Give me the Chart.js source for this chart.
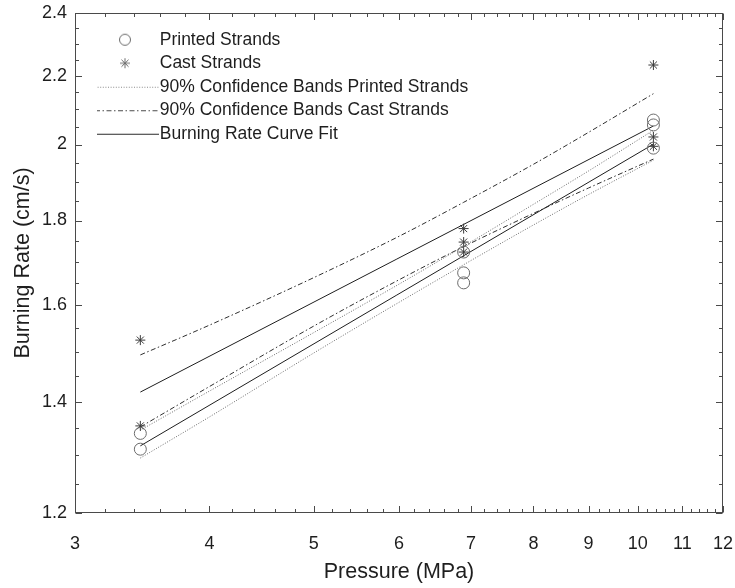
<!DOCTYPE html>
<html>
<head>
<meta charset="utf-8">
<title>Burning Rate vs Pressure</title>
<script src="https://cdn.jsdelivr.net/npm/chart.js@4.4.1/dist/chart.umd.min.js"></script>
<style>
  html, body { margin: 0; padding: 0; background: #fff; }
  #wrap { width: 735px; height: 588px; }
</style>
</head>
<body>
<div id="wrap"><canvas id="burn-canvas" width="735" height="588"></canvas></div>
<script>
  // Strand measurements: pressure (MPa) and burning rate (cm/s)
  let printed_p = [3.45, 3.45, 6.89, 6.89, 6.89, 10.34, 10.34, 10.34];
  let printed_r = [1.340, 1.311, 1.723, 1.674, 1.651, 2.069, 2.055, 1.990];
  let cast_p = [3.45, 3.45, 6.89, 6.89, 6.89, 10.34, 10.34, 10.34];
  let cast_r = [1.525, 1.354, 1.780, 1.747, 1.723, 2.233, 2.021, 1.995];

  // Curve fits (straight lines on log-log axes)
  let fit_p = [3.45, 10.34];
  let fit_printed = [1.317, 2.001];
  let fit_cast = [1.419, 2.052];

  // 90% confidence bands
  let band_p = [3.45, 4, 5, 6, 6.89, 8, 9, 10.34];
  let band_printed_hi = [1.346, 1.421, 1.541, 1.648, 1.737, 1.841, 1.928, 2.040];
  let band_printed_lo = [1.295, 1.371, 1.498, 1.607, 1.693, 1.789, 1.866, 1.957];
  let band_cast_hi = [1.494, 1.557, 1.663, 1.761, 1.846, 1.946, 2.034, 2.146];
  let band_cast_lo = [1.352, 1.430, 1.555, 1.658, 1.736, 1.818, 1.883, 1.960];

  // Axis ticks
  let x_ticks = [3, 4, 5, 6, 7, 8, 9, 10, 11, 12];
  let y_ticks = [1.2, 1.4, 1.6, 1.8, 2.0, 2.2, 2.4];

  let font_family = '"Liberation Sans", Arial, sans-serif';
  let axis_color = '#4a4a4a';
  let text_color = '#1e1e1e';

  Chart.defaults.font.family = font_family;

  function pts(xs, ys) {
    let out = [];
    for (let i = 0; i < xs.length; i++) {
      out.push({x: xs[i], y: ys[i]});
    }
    return out;
  }

  // little legend swatches: a line segment with an optional marker
  function make_sample(dash, color, marker) {
    let c = document.createElement('canvas');
    c.width = 64;
    c.height = 16;
    let g = c.getContext('2d');
    g.strokeStyle = color;
    g.lineWidth = 1;
    if (dash) {
      g.setLineDash(dash);
      g.beginPath();
      g.moveTo(0, 8.5);
      g.lineTo(64, 8.5);
      g.stroke();
      g.setLineDash([]);
    }
    if (marker === 'circle') {
      g.beginPath();
      g.arc(30, 8, 5.5, 0, Math.PI * 2);
      g.stroke();
    }
    if (marker === 'star') {
      let r = 5;
      g.beginPath();
      for (let k = 0; k < 4; k++) {
        let a = k * Math.PI / 4;
        g.moveTo(30 - r * Math.cos(a), 8 - r * Math.sin(a));
        g.lineTo(30 + r * Math.cos(a), 8 + r * Math.sin(a));
      }
      g.stroke();
    }
    return c;
  }

  let dot_dash = [1, 1.6];
  let dashdot_dash = [5, 2.5, 1.5, 2.5];

  let line_base = {
    showLine: true,
    pointRadius: 0,
    pointHoverRadius: 0,
    fill: false,
    borderWidth: 1,
    cubicInterpolationMode: 'monotone'
  };

  let datasets = [
    {
      label: 'Printed Strands',
      data: pts(printed_p, printed_r),
      showLine: false,
      pointStyle: 'circle',
      pointRadius: 6,
      borderColor: '#6c6c6c',
      backgroundColor: 'rgba(0,0,0,0)',
      borderWidth: 1,
      sample: make_sample(null, '#6c6c6c', 'circle')
    },
    {
      label: 'Cast Strands',
      data: pts(cast_p, cast_r),
      showLine: false,
      pointStyle: 'star',
      pointRadius: 5,
      borderColor: '#3a3a3a',
      backgroundColor: 'rgba(0,0,0,0)',
      borderWidth: 1,
      sample: make_sample(null, '#6c6c6c', 'star')
    },
    Object.assign({}, line_base, {
      label: '90% Confidence Bands Printed Strands',
      data: pts(band_p, band_printed_hi),
      borderColor: '#6a6a6a',
      borderDash: dot_dash,
      sample: make_sample(dot_dash, '#8a8a8a', null)
    }),
    Object.assign({}, line_base, {
      label: 'printed lower band',
      data: pts(band_p, band_printed_lo),
      borderColor: '#6a6a6a',
      borderDash: dot_dash,
      hide_in_legend: true
    }),
    Object.assign({}, line_base, {
      label: '90% Confidence Bands Cast Strands',
      data: pts(band_p, band_cast_hi),
      borderColor: '#2e2e2e',
      borderDash: dashdot_dash,
      sample: make_sample(dashdot_dash, '#4a4a4a', null)
    }),
    Object.assign({}, line_base, {
      label: 'cast lower band',
      data: pts(band_p, band_cast_lo),
      borderColor: '#2e2e2e',
      borderDash: dashdot_dash,
      hide_in_legend: true
    }),
    Object.assign({}, line_base, {
      label: 'Burning Rate Curve Fit',
      data: pts(fit_p, fit_printed),
      borderColor: '#1e1e1e',
      sample: make_sample([], '#2a2a2a', null)
    }),
    Object.assign({}, line_base, {
      label: 'cast fit',
      data: pts(fit_p, fit_cast),
      borderColor: '#1e1e1e',
      hide_in_legend: true
    })
  ];

  // box around the plot plus inward major/minor ticks on all four sides
  let frame_plugin = {
    id: 'frame',
    beforeDatasetsDraw(chart) {
      let ctx = chart.ctx;
      let a = chart.chartArea;
      let xs = chart.scales.x;
      let ys = chart.scales.y;
      let L = Math.round(a.left) + 0.5, R = Math.round(a.right) - 0.5;
      let T = Math.round(a.top) + 0.5, B = Math.round(a.bottom) - 0.5;
      ctx.save();
      ctx.strokeStyle = axis_color;
      ctx.lineWidth = 1;
      ctx.strokeRect(L, T, R - L, B - T);

      let x_minor = [];
      for (let v = 3.2; v < 12; v += 0.2) {
        let r = Math.round(v * 10) / 10;
        if (Math.abs(r - Math.round(r)) > 1e-6) x_minor.push(r);
      }
      let y_minor = [];
      for (let v = 1.25; v < 2.4; v += 0.05) {
        let r = Math.round(v * 100) / 100;
        if (Math.abs(r * 5 - Math.round(r * 5)) > 1e-6) y_minor.push(r);
      }

      ctx.beginPath();
      let xtick = function(v, len) {
        let px = Math.round(xs.getPixelForValue(v)) + 0.5;
        ctx.moveTo(px, B); ctx.lineTo(px, B - len);
        ctx.moveTo(px, T); ctx.lineTo(px, T + len);
      };
      let ytick = function(v, len) {
        let py = Math.round(ys.getPixelForValue(v)) + 0.5;
        ctx.moveTo(L, py); ctx.lineTo(L + len, py);
        ctx.moveTo(R, py); ctx.lineTo(R - len, py);
      };
      x_ticks.forEach(v => xtick(v, 6.5));
      x_minor.forEach(v => xtick(v, 3.5));
      y_ticks.forEach(v => ytick(v, 6.5));
      y_minor.forEach(v => ytick(v, 3.5));
      ctx.stroke();
      ctx.restore();
    },
    afterLayout(chart) {
      // legend sits in the upper-left corner of the plot
      let lg = chart.legend;
      if (!lg) return;
      lg.left = 97;
      lg.right = 600;
      lg.top = 25;
      lg.bottom = 400;
    }
  };

  let burn_ctx = document.getElementById('burn-canvas').getContext('2d');
  let burn_chart = new Chart(burn_ctx, {
    type: 'scatter',
    data: { datasets: datasets },
    plugins: [frame_plugin],
    options: {
      responsive: false,
      animation: false,
      devicePixelRatio: 1,
      events: [],
      layout: { padding: { left: 0, right: 12, top: 13, bottom: 0 } },
      plugins: {
        tooltip: { enabled: false },
        legend: {
          position: 'chartArea',
          align: 'start',
          labels: {
            usePointStyle: true,
            pointStyleWidth: 48,
            padding: 6,
            color: text_color,
            font: { size: 17.5, family: font_family },
            filter: (item, data) => !data.datasets[item.datasetIndex].hide_in_legend,
            generateLabels: function(chart) {
              let items = Chart.defaults.plugins.legend.labels.generateLabels(chart);
              items.forEach(it => {
                it.pointStyle = chart.data.datasets[it.datasetIndex].sample;
                it.fontColor = text_color;
              });
              return items;
            }
          }
        }
      },
      scales: {
        x: {
          type: 'logarithmic',
          min: 3,
          max: 12,
          afterBuildTicks: s => { s.ticks = x_ticks.map(v => ({value: v})); },
          afterFit: s => { s.height = 75; },
          // tick marks are drawn by the frame plugin; tickLength only spaces the labels
          grid: { display: false, drawTicks: true, tickLength: 20 },
          border: { display: false },
          ticks: {
            autoSkip: false,
            maxRotation: 0,
            padding: 0,
            color: text_color,
            font: { size: 18 },
            callback: v => String(v)
          },
          title: {
            display: true,
            text: 'Pressure (MPa)',
            color: text_color,
            font: { size: 21.5 },
            padding: { top: 0, bottom: 3 }
          }
        },
        y: {
          type: 'logarithmic',
          min: 1.2,
          max: 2.4,
          afterBuildTicks: s => { s.ticks = y_ticks.map(v => ({value: v})); },
          afterFit: s => { s.width = 75; },
          grid: { display: false, drawTicks: true, tickLength: 8 },
          border: { display: false },
          ticks: {
            autoSkip: false,
            padding: 0,
            color: text_color,
            font: { size: 18 },
            callback: v => String(v)
          },
          title: {
            display: true,
            text: 'Burning Rate (cm/s)',
            color: text_color,
            font: { size: 21.5 },
            padding: { top: 10, bottom: 0 }
          }
        }
      }
    }
  });
</script>
</body>
</html>
